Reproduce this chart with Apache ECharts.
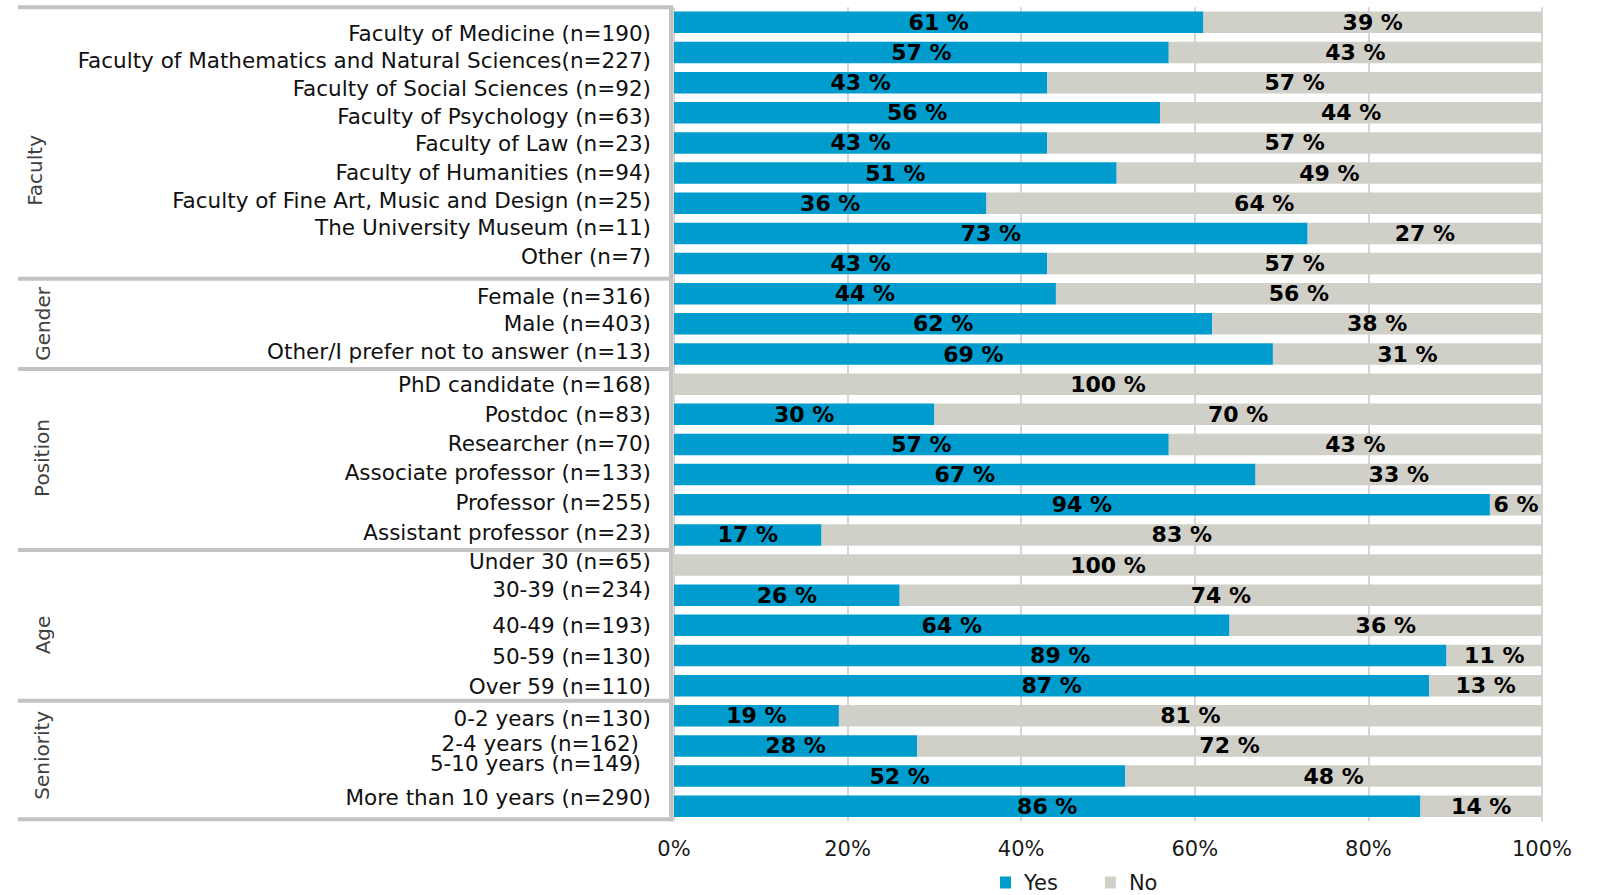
<!DOCTYPE html>
<html>
<head>
<meta charset="utf-8">
<title>Share answering yes, by faculty, gender, position, age and seniority</title>
<script src="https://cdn.jsdelivr.net/npm/echarts@6/dist/echarts.min.js"></script>
<style>
  html, body { margin: 0; padding: 0; background: #ffffff; }
  #chart { width: 1598px; height: 895px; }
</style>
</head>
<body>
<div id="chart"></div>
<script>
// ---- data ----
const categories = [
  'Faculty of Medicine (n=190)',
  'Faculty of Mathematics and Natural Sciences(n=227)',
  'Faculty of Social Sciences (n=92)',
  'Faculty of Psychology (n=63)',
  'Faculty of Law (n=23)',
  'Faculty of Humanities (n=94)',
  'Faculty of Fine Art, Music and Design (n=25)',
  'The University Museum (n=11)',
  'Other (n=7)',
  'Female (n=316)',
  'Male (n=403)',
  'Other/I prefer not to answer (n=13)',
  'PhD candidate (n=168)',
  'Postdoc (n=83)',
  'Researcher (n=70)',
  'Associate professor (n=133)',
  'Professor (n=255)',
  'Assistant professor (n=23)',
  'Under 30 (n=65)',
  '30-39 (n=234)',
  '40-49 (n=193)',
  '50-59 (n=130)',
  'Over 59 (n=110)',
  '0-2 years (n=130)',
  '2-4 years (n=162)',
  '5-10 years (n=149)',
  'More than 10 years (n=290)'
];
const yesValues = [61, 57, 43, 56, 43, 51, 36, 73, 43, 44, 62, 69, 0, 30, 57, 67, 94, 17, 0, 26, 64, 89, 87, 19, 28, 52, 86];
const noValues  = [39, 43, 57, 44, 57, 49, 64, 27, 57, 56, 38, 31, 100, 70, 43, 33, 6, 83, 100, 74, 36, 11, 13, 81, 72, 48, 14];
const seriesNames = ['Yes', 'No'];
const groupNames = ['Faculty', 'Gender', 'Position', 'Age', 'Seniority'];
const groupSizes = [9, 3, 6, 5, 4];

// ---- layout tweaks for the left-hand label panel ----
// vertical nudge (px) of each category label relative to its bar
const labelNudgeY = [11, 7.5, 5.5, 4, 1, -1, -3, -5.5, -7.5, 3, 0, -3, 0, 0, -1, -2, -2, -2, -3.5, -6, 0.5, 1.5, 0.5, 2.5, -2.5, -12.5, -8.5];
// horizontal nudge (px, leftwards) of each category label
const labelNudgeX = categories.map((c, i) => (i === 24 ? 12 : i === 25 ? 10 : 0));
// where each group title sits: fractional row index and x centre
const groupTitleRow = [4.91, 10.0, 14.45, 20.32, 24.31];
const groupTitleX = [35, 43, 42, 43, 42];

const BLUE = '#009ccd';
const GREY = '#d0cfc8';
const FRAME = '#c3c3c3';
const FONT = 'DejaVu Sans, Verdana, sans-serif';

const richLabels = {};
categories.forEach((c, i) => {
  const d = labelNudgeY[i];
  richLabels['r' + i] = {
    fontFamily: FONT,
    fontSize: 21.5,
    color: '#111111',
    padding: [d > 0 ? 2 * d : 0, labelNudgeX[i], d < 0 ? -2 * d : 0, 0]
  };
});

const chart = echarts.init(document.getElementById('chart'), null, { renderer: 'svg' });

const valueLabel = {
  show: true,
  position: 'inside',
  fontFamily: FONT,
  fontWeight: 'bold',
  fontSize: 22,
  color: '#000000',
  formatter: p => (p.value > 0 ? p.value + ' %' : '')
};

chart.setOption({
  animation: false,
  backgroundColor: '#ffffff',
  grid: { left: 674, right: 56, top: 7.3, bottom: 73.7, containLabel: false },
  legend: {
    data: seriesNames,
    left: 995,
    top: 867,
    icon: 'rect',
    itemWidth: 11,
    itemHeight: 12,
    itemGap: 47,
    textStyle: { fontFamily: FONT, fontSize: 21, color: '#1a1a1a', padding: [0, 0, 0, 8] }
  },
  xAxis: {
    type: 'value',
    min: 0,
    max: 100,
    interval: 20,
    axisLine: { show: false },
    axisTick: { show: false },
    splitLine: { show: true, lineStyle: { color: '#d6d6d6', width: 2 } },
    axisLabel: { formatter: '{value}%', fontFamily: FONT, fontSize: 21, color: '#1a1a1a', margin: 17 }
  },
  yAxis: {
    type: 'category',
    inverse: true,
    data: categories,
    axisLine: { show: false },
    axisTick: { show: false },
    splitLine: { show: false },
    axisLabel: {
      interval: 0,
      margin: 23,
      align: 'right',
      formatter: (v, i) => '{r' + i + '|' + v + '}',
      rich: richLabels
    }
  },
  series: [
    {
      name: seriesNames[0],
      type: 'bar',
      stack: 'share',
      barWidth: 21.5,
      itemStyle: { color: BLUE },
      label: valueLabel,
      data: yesValues
    },
    {
      name: seriesNames[1],
      type: 'bar',
      stack: 'share',
      barWidth: 21.5,
      itemStyle: { color: GREY },
      label: valueLabel,
      data: noValues
    }
  ]
});

// ---- label panel frame and group titles, placed from the category axis ----
function rowY(idx) {
  const lo = Math.floor(idx);
  const hi = Math.min(lo + 1, categories.length - 1);
  const yLo = chart.convertToPixel({ yAxisIndex: 0 }, categories[lo]);
  const yHi = chart.convertToPixel({ yAxisIndex: 0 }, categories[hi]);
  return yLo + (yHi - yLo) * (idx - lo);
}

const band = rowY(1) - rowY(0);
const panelLeft = 18;
const panelRight = 671;
const elements = [];

// horizontal separators at group boundaries
const boundaries = [rowY(0) - band / 2];
let acc = 0;
groupSizes.forEach(n => {
  acc += n;
  boundaries.push(rowY(acc - 1) + band / 2);
});
boundaries[boundaries.length - 1] -= 2;

boundaries.forEach(y => {
  elements.push({
    type: 'line',
    shape: { x1: panelLeft, y1: y, x2: panelRight + 2, y2: y },
    style: { stroke: FRAME, lineWidth: 4 },
    z: 10
  });
});

// right edge of the panel
elements.push({
  type: 'line',
  shape: { x1: panelRight, y1: boundaries[0] - 2, x2: panelRight, y2: boundaries[boundaries.length - 1] + 2 },
  style: { stroke: FRAME, lineWidth: 4 },
  z: 10
});

// rotated group titles
groupNames.forEach((name, g) => {
  elements.push({
    type: 'text',
    x: groupTitleX[g],
    y: rowY(groupTitleRow[g]),
    rotation: Math.PI / 2,
    style: {
      text: name,
      fontFamily: FONT,
      fontSize: 20,
      fill: '#404040',
      align: 'center',
      verticalAlign: 'middle'
    },
    z: 10
  });
});

chart.setOption({ graphic: { elements } });
</script>
</body>
</html>
